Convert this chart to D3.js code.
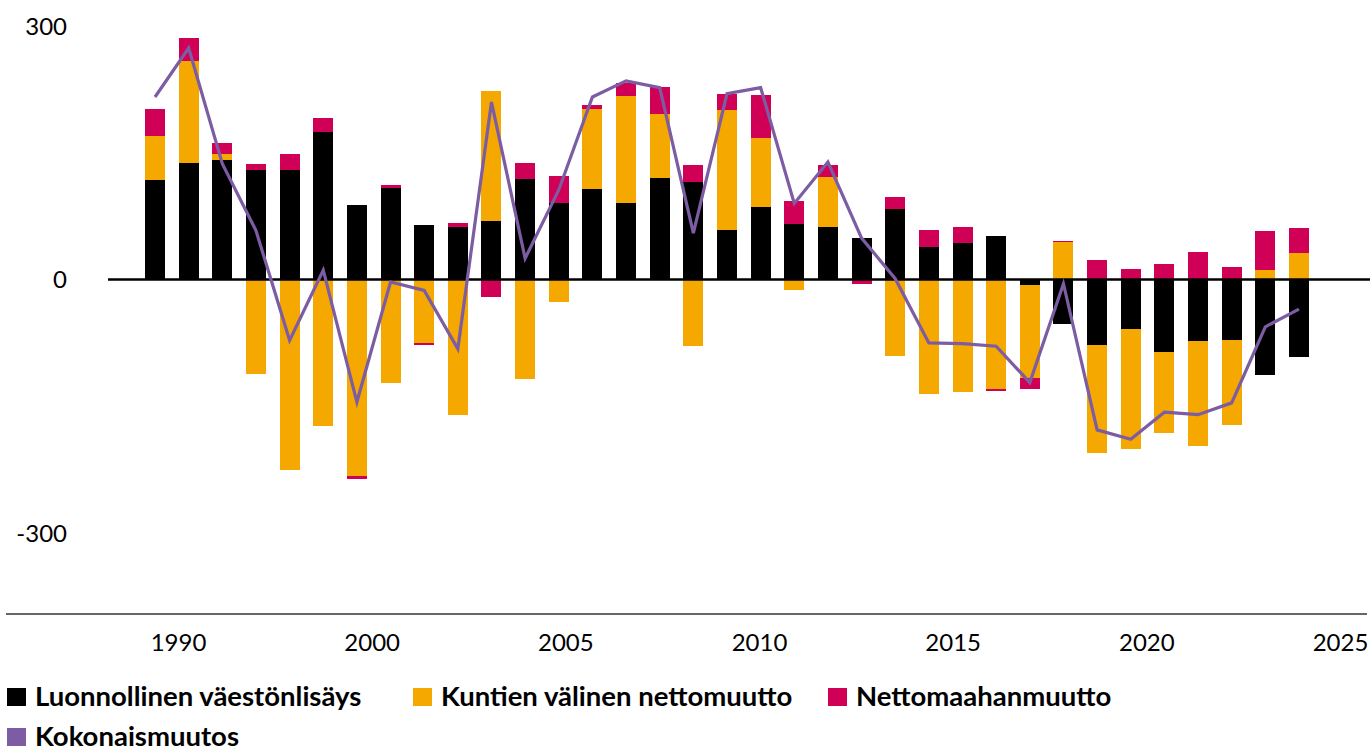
<!DOCTYPE html>
<html>
<head>
<meta charset="utf-8">
<script src="https://cdn.jsdelivr.net/npm/d3@7"></script>
<style>
  html, body { margin: 0; padding: 0; background: #fff; }
  svg { display: block; }
  text { font-family: Lato, "Noto Sans", sans-serif; fill: #000; }
</style>
</head>
<body>
<svg id="chart" width="1370" height="747"></svg>
<script>
// ---- data ----
const years = d3.range(1990, 2025);
const natural = [118, 138, 142, 129, 129, 174, 88, 108, 64, 62, 69, 119, 90, 107, 90, 120, 115, 58, 86, 66, 62, 49, 84, 38, 43, 51, -7, -53, -78, -58, -86, -73, -72, -113, -92];
const internal = [52, 121, 7, -112, -225, -173, -232, -122, -75, -160, 154, -118, -27, 95, 127, 76, -79, 143, 81, -12, 59, -1, -90, -136, -133, -130, -110, 44, -127, -143, -96, -124, -100, 11, 31];
const immigration = [32, 27, 12, 8, 19, 17, -4, 4, -3, 5, -21, 19, 33, 5, 15, 32, 20, 19, 51, 27, 15, -4, 14, 21, 19, -2, -12, 2, 23, 12, 18, 33, 15, 46, 30];
const total = [216, 274, 137, 58, -72, 11, -145, -3, -13, -82, 210, 25, 106, 216, 235, 227, 55, 220, 227, 90, 139, 49, 1, -75, -76, -79, -122, -5, -178, -189, -157, -160, -146, -56, -35];
const xTickLabels = ["1990", "2000", "2005", "2010", "2015", "2020", "2025"];
const yTicks = [-300, 0, 300];
const seriesNames = ["Luonnollinen väestönlisäys", "Kuntien välinen nettomuutto", "Nettomaahanmuutto", "Kokonaismuutos"];
const colors = ["#000000", "#f5a800", "#d10057", "#7c5ca3"];

// ---- table ----
const keys = ["natural", "internal", "immigration"];
const table = years.map((y, i) => ({ year: y, natural: natural[i], internal: internal[i], immigration: immigration[i], total: total[i] }));

const svg = d3.select("#chart");

const x = d3.scaleBand().domain(years).range([138.2, 1315.8]).paddingInner(0.406).paddingOuter(0.203);
const y = d3.scaleLinear().domain([-300, 300]).range([533, 26]);
const xLabels = d3.scalePoint().domain(xTickLabels).range([178, 1340]);
const plotBottom = 614;

// stacked bars
const stack = d3.stack().keys(keys).offset(d3.stackOffsetDiverging);
const series = stack(table);

svg.append("g").selectAll("g").data(series).join("g")
  .attr("fill", (d, i) => colors[i])
  .selectAll("rect").data(d => d).join("rect")
  .attr("x", d => x(d.data.year))
  .attr("width", x.bandwidth())
  .attr("y", d => y(Math.max(d[0], d[1])))
  .attr("height", d => Math.abs(y(d[0]) - y(d[1])))
  .attr("shape-rendering", "crispEdges");

// zero line
svg.append("line")
  .attr("x1", 108).attr("x2", 1370)
  .attr("y1", y(0)).attr("y2", y(0))
  .attr("stroke", "#000").attr("stroke-width", 2.5);

// total line
const line = d3.line()
  .x(d => x(d.year) + x.bandwidth() / 2)
  .y(d => y(d.total));
svg.append("path")
  .datum(table)
  .attr("d", line)
  .attr("fill", "none")
  .attr("stroke", colors[3])
  .attr("stroke-width", 3.2)
  .attr("stroke-linejoin", "miter");

// y axis labels
const yAxis = d3.axisLeft(y).tickValues(yTicks).tickSize(0).tickPadding(0).tickFormat(d => String(d));
const gy = svg.append("g").attr("transform", "translate(67,0)").call(yAxis);
gy.select(".domain").remove();
gy.selectAll("text").attr("font-size", 24).attr("font-family", "Lato, sans-serif").attr("fill", "#000").attr("dy", "0.35em");

// x axis
const xAxis = d3.axisBottom(xLabels).tickSize(0).tickPadding(0);
const gx = svg.append("g").attr("transform", `translate(0,${plotBottom})`).call(xAxis);
gx.select(".domain").remove();
gx.selectAll("text").attr("font-size", 24).attr("font-family", "Lato, sans-serif").attr("fill", "#000").attr("dy", "1.55em");
svg.append("line")
  .attr("x1", 6).attr("x2", 1367)
  .attr("y1", plotBottom).attr("y2", plotBottom)
  .attr("stroke", "#333").attr("stroke-width", 1.5);

// legend
const legendPos = [[7, 688], [413, 688], [828, 688], [7, 728]];
const lg = svg.append("g").selectAll("g").data(seriesNames).join("g")
  .attr("transform", (d, i) => `translate(${legendPos[i][0]},${legendPos[i][1]})`);
lg.append("rect").attr("width", 19).attr("height", 18).attr("fill", (d, i) => colors[i]);
lg.append("text").attr("x", 28).attr("y", 18)
  .attr("font-size", 27.5).attr("font-weight", "bold")
  .text(d => d);
</script>
</body>
</html>
